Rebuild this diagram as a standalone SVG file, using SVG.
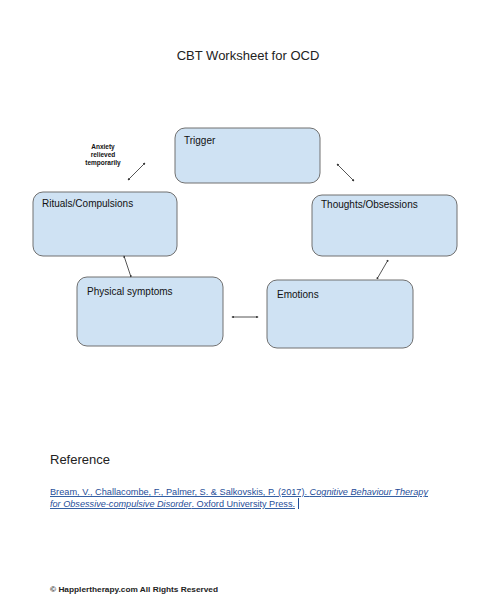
<svg xmlns="http://www.w3.org/2000/svg" width="497" height="600" viewBox="0 0 497 600">
<style>
.box{fill:#cfe2f3;stroke:#707070;stroke-width:1}
.lbl{font-family:"Liberation Sans",Arial,sans-serif;font-size:10px;fill:#111}
.conn{stroke:#555;stroke-width:1;fill:none;marker-start:url(#ah);marker-end:url(#ah)}
.cite{font-family:"Liberation Sans",Arial,sans-serif;font-size:9px;fill:#1f4e99;text-decoration:underline}
</style>
<defs>
<marker id="ah" viewBox="0 0 4 4" refX="3" refY="2" markerWidth="2.5" markerHeight="2.5" orient="auto-start-reverse">
<path d="M0,0 L4,2 L0,4 z" fill="#333"/>
</marker>
</defs>
<rect width="497" height="600" fill="#fff"/>
<text x="248" y="60" text-anchor="middle" font-family="'Liberation Sans',Arial,sans-serif" font-size="13" fill="#222">CBT Worksheet for OCD</text>

<g id="trigger"><rect class="box" x="175" y="128" width="145" height="55" rx="10"/><text class="lbl" x="184" y="144">Trigger</text></g>
<g id="thoughts"><rect class="box" x="312" y="195" width="145" height="61" rx="10"/><text class="lbl" x="321" y="208">Thoughts/Obsessions</text></g>
<g id="emotions"><rect class="box" x="267" y="280" width="146" height="68" rx="10"/><text class="lbl" x="277" y="298">Emotions</text></g>
<g id="physical"><rect class="box" x="77" y="277" width="146" height="69" rx="10"/><text class="lbl" x="87" y="295">Physical symptoms</text></g>
<g id="rituals"><rect class="box" x="33" y="192" width="144" height="64" rx="10"/><text class="lbl" x="42" y="207">Rituals/Compulsions</text></g>

<g id="anxiety-note" font-family="'Liberation Sans',Arial,sans-serif" font-size="6.5" font-weight="bold" fill="#111" text-anchor="middle">
<text x="103" y="149">Anxiety</text>
<text x="103" y="157">relieved</text>
<text x="103" y="165">temporarily</text>
</g>

<g id="connectors">
<line class="conn" x1="128" y1="180" x2="145" y2="163"/>
<line class="conn" x1="337" y1="164" x2="354" y2="181"/>
<line class="conn" x1="388" y1="260" x2="377" y2="279"/>
<line class="conn" x1="124" y1="256" x2="131" y2="277"/>
<line class="conn" x1="232" y1="317" x2="258" y2="317"/>
</g>

<text x="50" y="464" font-family="'Liberation Sans',Arial,sans-serif" font-size="13" fill="#222">Reference</text>
<text class="cite" x="50" y="495" textLength="378" lengthAdjust="spacingAndGlyphs">Bream, V., Challacombe, F., Palmer, S. &amp; Salkovskis, P. (2017). <tspan font-style="italic">Cognitive Behaviour Therapy</tspan></text>
<text class="cite" x="50" y="507" textLength="245" lengthAdjust="spacingAndGlyphs"><tspan font-style="italic">for Obsessive-compulsive Disorder</tspan>. Oxford University Press.</text>
<line x1="298.5" y1="498" x2="298.5" y2="509" stroke="#1f4e99" stroke-width="1"/>

<text x="50" y="592" font-family="'Liberation Sans',Arial,sans-serif" font-size="8" font-weight="bold" fill="#222" textLength="168" lengthAdjust="spacingAndGlyphs">© Happlertherapy.com All Rights Reserved</text>
</svg>
